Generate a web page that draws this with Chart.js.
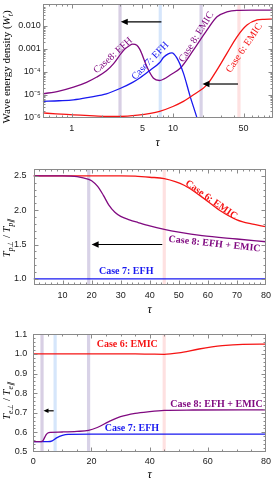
<!DOCTYPE html>
<html><head><meta charset="utf-8">
<script src="https://cdn.jsdelivr.net/npm/chart.js@4.4.1/dist/chart.umd.min.js"></script>
<style>
html,body{margin:0;padding:0;background:#fff;width:275px;height:481px;overflow:hidden}
canvas{position:absolute;left:0}
</style></head><body>
<canvas id="c1" width="275" height="155" style="top:0px"></canvas>
<canvas id="c2" width="275" height="163" style="top:155px"></canvas>
<canvas id="c3" width="275" height="163" style="top:318px"></canvas>
<script>
// ---------- Panel 1: wave energy density (log-log) ----------
const p1RedTau = [0.516, 0.7, 1.04, 1.5, 2.2, 3.0, 4.5, 6, 7.4, 10, 12.7, 16, 21.7, 27.3, 34.2, 43, 54, 68, 80, 97];
const p1RedW   = [1.66e-6, 1.51e-6, 1.38e-6, 1.26e-6, 1.17e-6, 1.17e-6, 1.32e-6, 1.58e-6, 1.95e-6, 3.16e-6, 5.25e-6, 1.02e-5, 2.75e-5, 1.23e-4, 6.46e-4, 3.39e-3, 1.10e-2, 1.82e-2, 1.95e-2, 2.0e-2];
const p1PurpleTau = [0.516, 0.75, 1.04, 1.4, 1.77, 2.2, 2.58, 3.24, 3.7, 4.0, 4.4, 4.74, 5.53, 6.43, 7.37, 8.1, 9.5, 11.8, 16, 21.7, 27.3, 34.2, 43, 60, 97];
const p1PurpleW   = [1.12e-5, 1.48e-5, 2.19e-5, 3.55e-5, 6.03e-5, 1.12e-4, 2.24e-4, 8.51e-4, 1.38e-3, 1.62e-3, 1.45e-3, 9.12e-4, 1.70e-4, 5.37e-5, 4.27e-5, 4.90e-5, 7.59e-5, 1.45e-4, 9.12e-4, 6.61e-3, 2.51e-2, 4.07e-2, 4.79e-2, 4.90e-2, 4.90e-2];
const p1BlueTau = [0.516, 0.75, 1.04, 1.52, 2.2, 3.0, 4.0, 4.74, 5.96, 7.37, 8.1, 9.0, 9.77, 10.9, 12.7, 14.8, 17.3, 20];
const p1BlueW   = [5.25e-6, 5.62e-6, 6.17e-6, 8.13e-6, 1.12e-5, 1.91e-5, 3.55e-5, 5.62e-5, 1.20e-4, 2.51e-4, 4.37e-4, 6.17e-4, 6.76e-4, 4.17e-4, 8.91e-5, 8.71e-6, 1.0e-6, 1.0e-7];
const p1XTicks = [1, 5, 10, 50];
const p1XTickLabels = ['1', '5', '10', '50'];
const p1YTicks = [1e-6, 1e-5, 1e-4, 1e-3, 1e-2];
const p1YTickLabels = ['10\u207B\u2076', '10\u207B\u2075', '10\u207B\u2074', '0.001', '0.010'];

// ---------- Panel 2: proton anisotropy ----------
const p2RedTau = [0, 10, 20, 30, 35, 40, 45, 52, 58, 64, 70, 75, 80];
const p2RedT   = [2.5, 2.5, 2.5, 2.5, 2.495, 2.48, 2.46, 2.36, 2.19, 2.0, 1.86, 1.8, 1.76];
const p2PurpleTau = [0, 10, 15, 19, 20, 22, 24, 26, 28, 30, 33, 36, 40, 45, 50, 58, 70, 80];
const p2PurpleT   = [2.5, 2.5, 2.49, 2.45, 2.43, 2.35, 2.22, 2.07, 1.97, 1.91, 1.86, 1.82, 1.77, 1.72, 1.68, 1.63, 1.58, 1.54];
const p2BlueTau = [0, 80];
const p2BlueT   = [1.0, 1.0];
const p2XTicks = [10, 20, 30, 40, 50, 60, 70, 80];
const p2YTicks = [1.0, 1.5, 2.0, 2.5];

// ---------- Panel 3: electron anisotropy ----------
const p3RedTau = [0, 20, 35, 40, 45, 50, 57, 65, 72, 80];
const p3RedT   = [1.0, 1.0, 1.0, 0.999, 0.998, 1.005, 1.025, 1.042, 1.049, 1.05];
const p3PurpleTau = [0, 2.5, 3.0, 3.5, 4.0, 4.5, 5.0, 6.0, 10, 15, 19, 22, 26, 30, 35, 40, 45, 55, 80];
const p3PurpleT   = [0.553, 0.553, 0.554, 0.562, 0.577, 0.59, 0.597, 0.6, 0.602, 0.605, 0.61, 0.625, 0.655, 0.68, 0.697, 0.706, 0.712, 0.714, 0.715];
const p3BlueTau = [0, 5, 6.5, 8, 10, 12, 20, 80];
const p3BlueT   = [0.553, 0.553, 0.557, 0.572, 0.585, 0.59, 0.591, 0.591];
const p3XTicks = [0, 20, 40, 60, 80];
const p3YTicks = [0.5, 0.6, 0.7, 0.8, 0.9, 1.0, 1.1];

// ---------- markers of times (bands) and arrows ----------
const bandTau = [3, 7.5, 19, 45];
const bandColors = ['rgba(190,175,210,0.6)', 'rgba(200,222,250,0.75)', 'rgba(190,180,215,0.6)', 'rgba(253,205,205,0.6)'];
const p1Arrows = [[7.7, 3.05, 0.0151], [44, 19.6, 3.0e-5]];
const p2Arrows = [[44.3, 20.0, 1.5]];
const p3Arrows = [[7.0, 3.5, 0.71]];

const RED = 'rgb(245,20,20)', PURPLE = 'rgb(128,10,128)', BLUE = 'rgb(25,25,240)';
const LAB1 = '10px "Liberation Serif"', LABB = 'bold 10px "Liberation Serif"';
const p1Labels = [
  ['Case8: EFH', 2.56, 5.2e-4, -42, PURPLE, LAB1],
  ['Case7: EFH', 5.96, 3.0e-4, -46, BLUE, LAB1],
  ['Case 8: EMIC', 17.1, 3.3e-3, -58, PURPLE, LAB1],
  ['Case 6: EMIC', 50.8, 1.1e-3, -56, RED, LAB1]
];
const p2Labels = [
  ['Case 6: EMIC', 61.2, 2.15, 35, RED, LABB],
  ['Case 8: EFH + EMIC', 62.3, 1.507, 6, PURPLE, LABB],
  ['Case 7: EFH', 31.9, 1.107, 0, BLUE, LABB]
];
const p3Labels = [
  ['Case 6: EMIC', 32.3, 1.046, 0, RED, LABB],
  ['Case 8: EFH + EMIC', 63, 0.745, 0, PURPLE, LABB],
  ['Case 7: EFH', 33.9, 0.622, 0, BLUE, LABB]
];

function minorLog(lo, hi, majors) {
  const out = [];
  for (let d = -7; d <= 3; d++) for (let k = 1; k <= 9; k++) {
    const v = k * Math.pow(10, d);
    if (v > lo && v < hi && !majors.some(m => Math.abs(m - v) / v < 1e-6)) out.push(v);
  }
  return out;
}
function minorLin(lo, hi, step) {
  const out = []; const n = Math.round((hi - lo) / step);
  for (let i = 0; i <= n; i++) out.push(+(lo + i * step).toFixed(6));
  return out;
}

const deco = {
  id: 'deco',
  beforeDatasetsDraw(chart, args, o) {
    const {ctx, chartArea: a, scales: {x}} = chart;
    ctx.save();
    ctx.beginPath(); ctx.rect(a.left, a.top, a.right - a.left, a.bottom - a.top); ctx.clip();
    o.bands.forEach(i => {
      const p = x.getPixelForValue(bandTau[i]);
      ctx.fillStyle = bandColors[i];
      ctx.fillRect(p - 1.6, a.top, 3.2, a.bottom - a.top);
    });
    ctx.restore();
  },
  afterDatasetsDraw(chart, args, o) {
    const {ctx, chartArea: a, scales: {x, y}} = chart;
    ctx.save();
    // arrows
    ctx.strokeStyle = '#000'; ctx.fillStyle = '#000'; ctx.lineWidth = 1.2;
    o.arrows.forEach(ar => {
      const x0 = x.getPixelForValue(ar[0]), x1 = x.getPixelForValue(ar[1]), py = y.getPixelForValue(ar[2]);
      const hl = o.head, hw = o.head * 0.45;
      ctx.beginPath(); ctx.moveTo(x0, py); ctx.lineTo(x1 + hl * 0.8, py); ctx.stroke();
      ctx.beginPath(); ctx.moveTo(x1, py); ctx.lineTo(x1 + hl, py - hw); ctx.lineTo(x1 + hl, py + hw); ctx.closePath(); ctx.fill();
    });
    // labels
    o.labels.forEach(l => {
      ctx.save();
      ctx.translate(x.getPixelForValue(l[1]), y.getPixelForValue(l[2]));
      ctx.rotate(l[3] * Math.PI / 180);
      ctx.font = l[5]; ctx.fillStyle = l[4]; ctx.textAlign = 'center'; ctx.textBaseline = 'middle';
      ctx.fillText(l[0], 0, 0);
      ctx.restore();
    });
    // frame
    const L = Math.round(a.left) + 0.5, R = Math.round(a.right) - 0.5, T = Math.round(a.top) + 0.5, B = Math.round(a.bottom) - 0.5;
    ctx.strokeStyle = '#8a8a8a'; ctx.lineWidth = 1;
    ctx.strokeRect(L, T, R - L, B - T);
    // inward ticks
    ctx.strokeStyle = '#8a8a8a';
    const xt = (vals, len) => vals.forEach(v => {
      const p = Math.round(x.getPixelForValue(v)) + 0.5;
      if (p <= L + 1 || p >= R - 1) return;
      ctx.beginPath(); ctx.moveTo(p, B); ctx.lineTo(p, B - len); ctx.moveTo(p, T); ctx.lineTo(p, T + len); ctx.stroke();
    });
    const yt = (vals, len) => vals.forEach(v => {
      const p = Math.round(y.getPixelForValue(v)) + 0.5;
      if (p <= T + 1 || p >= B - 1) return;
      ctx.beginPath(); ctx.moveTo(L, p); ctx.lineTo(L + len, p); ctx.moveTo(R, p); ctx.lineTo(R - len, p); ctx.stroke();
    });
    xt(o.xMinor, 2); xt(o.xMajor, 4); yt(o.yMinor, 2); yt(o.yMajor, 4);
    // x title
    ctx.fillStyle = '#000'; ctx.font = 'italic 12px "Liberation Serif"'; ctx.textAlign = 'center'; ctx.textBaseline = 'middle';
    ctx.fillText('\u03C4', (a.left + a.right) / 2, a.bottom + o.xTitleDy);
    // y title (rotated, mixed styles)
    ctx.translate(o.yTitle.x, o.yTitle.y); ctx.rotate(-Math.PI / 2);
    ctx.textAlign = 'left'; ctx.textBaseline = 'alphabetic';
    let total = 0;
    o.yTitle.parts.forEach(pt => { ctx.font = pt[1]; total += ctx.measureText(pt[0]).width; });
    let cx = -total / 2;
    o.yTitle.parts.forEach(pt => { ctx.font = pt[1]; ctx.fillText(pt[0], cx, pt[2]); cx += ctx.measureText(pt[0]).width; });
    ctx.restore();
  }
};

function fixBox(w, h) {
  return {
    x: s => { s.height = h; s.paddingLeft = 0; s.paddingRight = 0; },
    y: s => { s.width = w; s.paddingTop = 0; s.paddingBottom = 0; }
  };
}
const tickFont = {family: '"Liberation Sans", Arial, sans-serif', size: 9};
function ds(tau, vals, color) {
  return {data: tau.map((t, i) => ({x: t, y: vals[i]})), borderColor: color, borderWidth: 1.3,
    pointRadius: 0, fill: false, cubicInterpolationMode: 'monotone'};
}
function makeChart(id, cfg) {
  const f = fixBox(cfg.yw, cfg.xh);
  return new Chart(document.getElementById(id), {
    type: 'line',
    data: {datasets: cfg.datasets},
    plugins: [deco],
    options: {
      responsive: false, animation: false, events: [],
      layout: {padding: cfg.pad},
      plugins: {legend: {display: false}, tooltip: {enabled: false}, deco: cfg.deco},
      scales: {
        x: {type: cfg.xType, min: cfg.xMin, max: cfg.xMax,
          grid: {display: false, drawTicks: false}, border: {display: false},
          ticks: {font: tickFont, color: '#1a1a1a', padding: cfg.xPad, autoSkip: false, maxRotation: 0,
            callback: (v, i) => cfg.xLabels[i]},
          afterBuildTicks: s => { s.ticks = cfg.xTicks.map(v => ({value: v})); },
          afterFit: f.x},
        y: {type: cfg.yType, min: cfg.yMin, max: cfg.yMax,
          grid: {display: false, drawTicks: false}, border: {display: false},
          ticks: {font: tickFont, color: '#1a1a1a', padding: cfg.yPad, autoSkip: false,
            callback: (v, i) => cfg.yLabels[i]},
          afterBuildTicks: s => { s.ticks = cfg.yTicks.map(v => ({value: v})); },
          afterFit: f.y}
      }
    }
  });
}

const serif = '"Liberation Serif"';
makeChart('c1', {
  datasets: [ds(p1RedTau, p1RedW, RED), ds(p1BlueTau, p1BlueW, BLUE), ds(p1PurpleTau, p1PurpleW, PURPLE)],
  xType: 'logarithmic', xMin: 0.516, xMax: 97, yType: 'logarithmic', yMin: 1e-6, yMax: 0.09,
  xTicks: p1XTicks, xLabels: p1XTickLabels, yTicks: p1YTicks, yLabels: p1YTickLabels,
  yw: 42.7, xh: 37, pad: {left: 0, top: 4, right: 2.3, bottom: 0}, xPad: 5, yPad: 2,
  deco: {bands: [0, 1, 2, 3], arrows: p1Arrows, labels: p1Labels, head: 7,
    xMajor: p1XTicks, xMinor: minorLog(0.516, 97, p1XTicks),
    yMajor: p1YTicks, yMinor: minorLog(1e-6, 0.09, p1YTicks), xTitleDy: 25,
    yTitle: {x: 10, y: 67, parts: [['Wave energy density (', '11px ' + serif, 0], ['W', 'italic 11px ' + serif, 0], ['t', 'italic 8px ' + serif, 3], [')', '11px ' + serif, 0]]}}
});
makeChart('c2', {
  datasets: [ds(p2BlueTau, p2BlueT, BLUE), ds(p2PurpleTau, p2PurpleT, PURPLE), ds(p2RedTau, p2RedT, RED)],
  xType: 'linear', xMin: 0, xMax: 80, yType: 'linear', yMin: 0.91, yMax: 2.6,
  xTicks: p2XTicks, xLabels: p2XTicks.map(String), yTicks: p2YTicks, yLabels: p2YTicks.map(v => v.toFixed(1)),
  yw: 33.5, xh: 33, pad: {left: 0, top: 14, right: 9, bottom: 0}, xPad: 5, yPad: 7,
  deco: {bands: [2, 3], arrows: p2Arrows, labels: p2Labels, head: 7,
    xMajor: p2XTicks, xMinor: minorLin(0, 80, 2), yMajor: p2YTicks, yMinor: minorLin(0.9, 2.6, 0.1), xTitleDy: 25,
    yTitle: {x: 10, y: 83, parts: [['T', 'italic 10.5px ' + serif, 0], ['p\u22A5', 'italic 7.5px ' + serif, 3], [' / ', '10.5px ' + serif, 0], ['T', 'italic 10.5px ' + serif, 0], ['p\u2225', 'italic 7.5px ' + serif, 3]]}}
});
makeChart('c3', {
  datasets: [ds(p3RedTau, p3RedT, RED), ds(p3PurpleTau, p3PurpleT, PURPLE), ds(p3BlueTau, p3BlueT, BLUE)],
  xType: 'linear', xMin: 0, xMax: 80, yType: 'linear', yMin: 0.5, yMax: 1.1,
  xTicks: p3XTicks, xLabels: p3XTicks.map(String), yTicks: p3YTicks, yLabels: p3YTicks.map(v => v.toFixed(1)),
  yw: 33.3, xh: 29, pad: {left: 0, top: 16.3, right: 9, bottom: 0}, xPad: 4, yPad: 6,
  deco: {bands: [0, 1, 2, 3], arrows: p3Arrows, labels: p3Labels, head: 5,
    xMajor: p3XTicks, xMinor: minorLin(0, 80, 5), yMajor: p3YTicks, yMinor: minorLin(0.5, 1.1, 0.02), xTitleDy: 23,
    yTitle: {x: 10, y: 83, parts: [['T', 'italic 10.5px ' + serif, 0], ['e\u22A5', 'italic 7.5px ' + serif, 3], [' / ', '10.5px ' + serif, 0], ['T', 'italic 10.5px ' + serif, 0], ['e\u2225', 'italic 7.5px ' + serif, 3]]}}
});
</script>
</body></html>
